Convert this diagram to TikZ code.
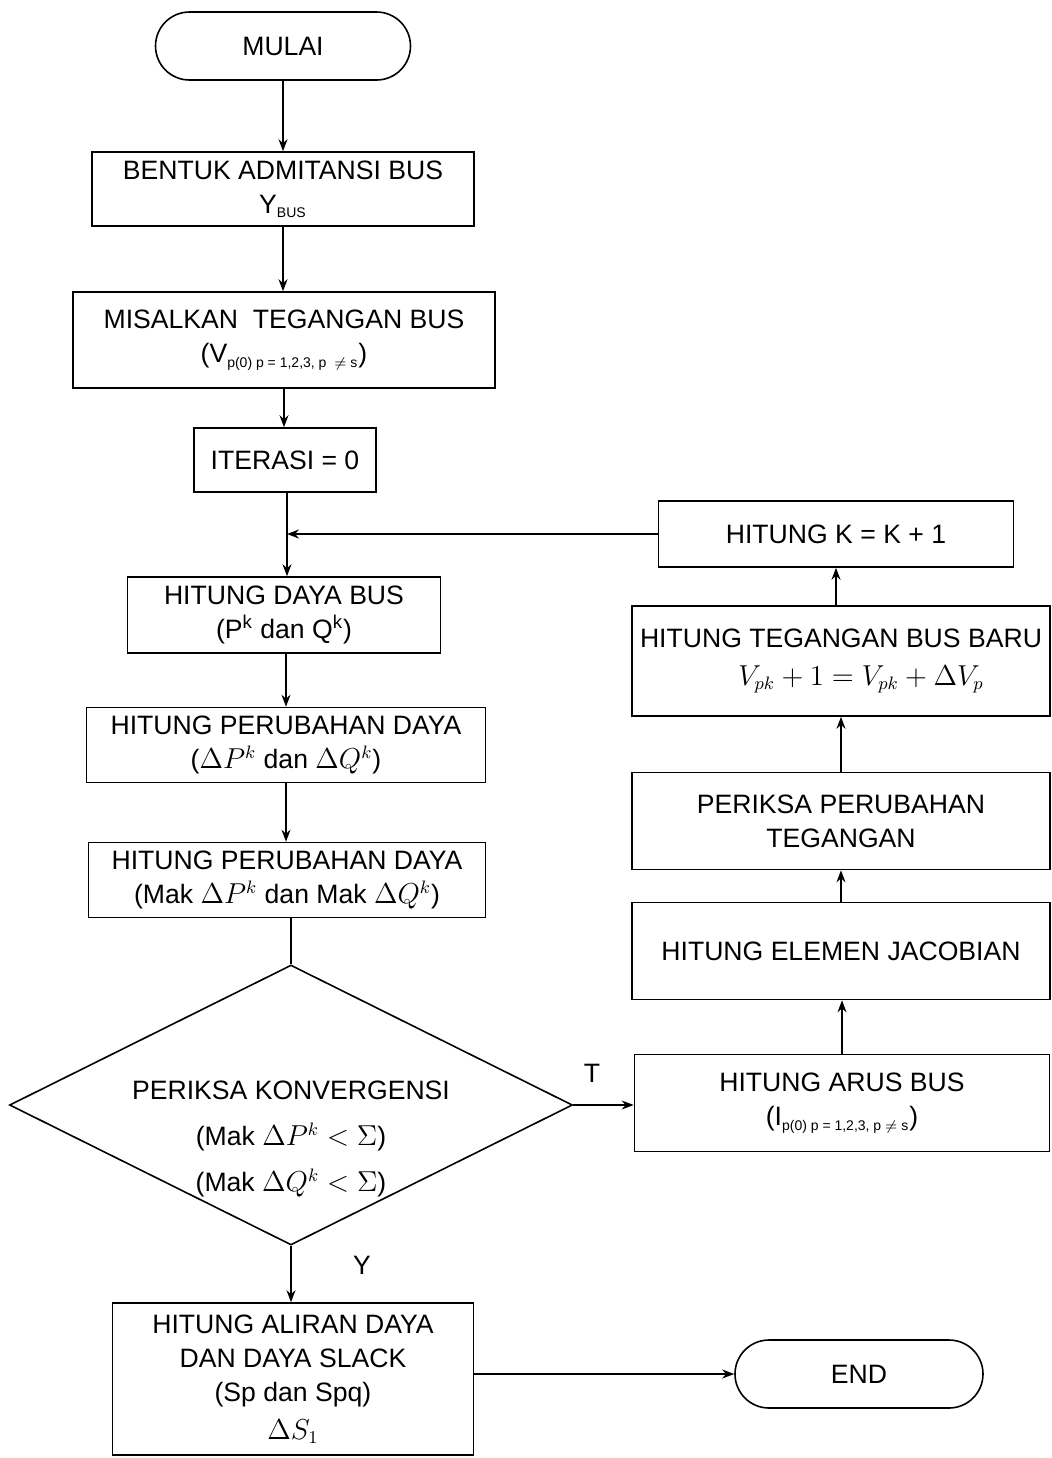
\documentclass[tikz,border=0pt]{standalone}
\usepackage{fontspec}
\setmainfont{Liberation Sans}
\usetikzlibrary{shapes.geometric,arrows.meta}
\begin{document}
\begin{tikzpicture}[x=0.5pt,y=-0.5pt,
  font=\fontsize{13.3}{17}\selectfont,
  bx/.style 2 args={draw, line width=0.8pt, rectangle, align=center, inner sep=0pt, minimum width=#1, minimum height=#2},
  term/.style 2 args={draw, line width=0.8pt, rectangle, rounded corners=17pt, align=center, inner sep=0pt, minimum width=#1, minimum height=#2},
  arr/.style={draw, line width=0.7pt, -{Stealth[length=6pt,width=4.5pt]}},
  ln/.style={draw, line width=0.7pt}]
\useasboundingbox (0,0) rectangle (1052,1458);
\fill[white] (0,0) rectangle (1052,1458);

\node[term={127.5pt}{34pt}] (mulai) at (283,46) {MULAI};
\node[bx={191pt}{37pt}] (bentuk) at (283,189) {BENTUK ADMITANSI BUS\\Y\textsubscript{\scriptsize BUS}};
\node[bx={211pt}{48pt}] (misal) at (284,340) {MISALKAN \ TEGANGAN BUS\\(V\textsubscript{\scriptsize p(0) p = 1,2,3, p \ $\neq$ s})};
\node[bx={91pt}{32pt}] (iter) at (285,460) {ITERASI = 0};
\node[bx={177.5pt}{33pt}] (kk) at (836,534) {HITUNG K = K + 1};
\node[bx={156.5pt}{38pt}] (daya) at (284,615) {HITUNG DAYA BUS\\(P\textsuperscript{k} dan Q\textsuperscript{k})};
\node[bx={209pt}{55pt}] (tegbaru) at (841,661) {HITUNG TEGANGAN BUS BARU\\[2pt]\hspace*{20pt}$V_{pk}+1=V_{pk}+\Delta V_p$};
\node[bx={199.5pt}{37.5pt}] (perub1) at (286,745) {HITUNG PERUBAHAN DAYA\\($\Delta P^k$ dan $\Delta Q^k$)};
\node[bx={209pt}{48.5pt}] (periksa) at (841,821) {PERIKSA PERUBAHAN\\TEGANGAN};
\node[bx={198.5pt}{37.5pt}] (perub2) at (287,880) {HITUNG PERUBAHAN DAYA\\(Mak $\Delta P^k$ dan Mak $\Delta Q^k$)};
\node[bx={209pt}{48.5pt}] (jacob) at (841,951) {HITUNG ELEMEN JACOBIAN};
\node[draw, line width=0.8pt, diamond, inner sep=0pt, minimum width=281.5pt, minimum height=140pt] (konv) at (291,1105) {};
\node[align=center] (konvtxt) at (291,1139) {PERIKSA KONVERGENSI\\[6pt](Mak $\Delta P^k<\Sigma$)\\[6pt](Mak $\Delta Q^k<\Sigma$)};
\node[bx={207.5pt}{48.5pt}] (arus) at (842,1103) {HITUNG ARUS BUS\\(I\textsubscript{\scriptsize p(0) p = 1,2,3, p $\neq$ s})};
\node[bx={180.5pt}{76pt}] (aliran) at (293,1379) {HITUNG ALIRAN DAYA\\DAN DAYA SLACK\\(Sp dan Spq)\\[2pt]$\Delta S_1$};
\node[term={124pt}{34pt}] (end) at (859,1374) {END};
\node (ylab) at (362,1265) {Y};
\node (tlab) at (592,1073) {T};

\coordinate (join) at (287,534);

\path[arr] (mulai.south) -- (mulai.south |- bentuk.north);
\path[arr] (bentuk.south) -- (bentuk.south |- misal.north);
\path[arr] (misal.south) -- (misal.south |- iter.north);
\path[ln] (iter.south -| join) -- (join);
\path[arr] (join) -- (daya.north -| join);
\path[arr] (kk.west) -- (join);
\path[arr] (daya.south -| perub1.north) -- (perub1.north);
\path[arr] (perub1.south) -- (perub1.south |- perub2.north);
\path[ln] (perub2.south -| konv.north) -- (konv.north);
\path[arr] (konv.east) -- (konv.east -| arus.west);
\path[arr] (arus.north) -- (arus.north |- jacob.south);
\path[arr] (jacob) -- (periksa);
\path[arr] (periksa) -- (tegbaru);
\path[arr] (tegbaru.north -| kk.south) -- (kk.south);
\path[arr] (konv.south) -- (aliran.north -| konv.south);
\path[arr] (aliran.east |- end) -- (end.west);
\end{tikzpicture}
\end{document}
